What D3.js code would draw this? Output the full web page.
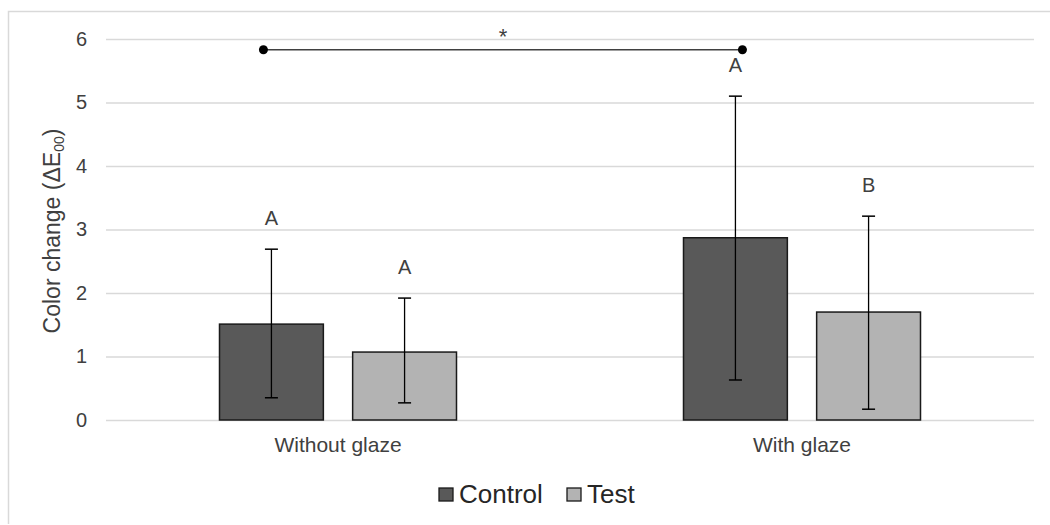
<!DOCTYPE html>
<html>
<head>
<meta charset="utf-8">
<script src="https://cdn.jsdelivr.net/npm/d3@7"></script>
<style>
  body { margin: 0; background: #fff; }
  text { font-family: "Liberation Sans", Arial, sans-serif; }
</style>
</head>
<body>
<div id="chart"></div>
<script>
// Data
var categories = ["Without glaze", "With glaze"];
var series = ["Control", "Test"];
var means = [[1.51, 1.07], [2.87, 1.70]];
var errUpper = [[2.69, 1.92], [5.10, 3.21]];
var errLower = [[0.35, 0.27], [0.63, 0.17]];
var letters = [["A", "A"], ["A", "B"]];
var yTicks = [0, 1, 2, 3, 4, 5, 6];
var bracketValue = 5.83;

var colors = { Control: "#595959", Test: "#b3b3b3" };

var W = 1050, H = 525;
var margin = { top: 39, right: 16, bottom: 105, left: 106 };
var width = W - margin.left - margin.right;
var height = H - margin.top - margin.bottom;

var svg = d3.select("#chart").append("svg")
  .attr("width", W)
  .attr("height", H);

// outer chart border (only top and left visible)
svg.append("path")
  .attr("d", "M8.5,524 V11.5 H1050")
  .attr("fill", "none")
  .attr("stroke", "#d9d9d9")
  .attr("stroke-width", 1.5);

var g = svg.append("g")
  .attr("transform", "translate(" + margin.left + "," + margin.top + ")");

var x0 = d3.scaleBand().domain(categories).range([0, width]);
var x1 = d3.scaleBand().domain(series).range([0, 237]).paddingInner(0.22);
var y = d3.scaleLinear().domain([0, 6]).range([height, 0]);

// gridlines
g.append("g")
  .call(d3.axisLeft(y).tickValues(yTicks).tickSize(-width).tickFormat(""))
  .call(function(s) { s.select(".domain").remove(); })
  .selectAll("line")
  .attr("stroke", "#d9d9d9")
  .attr("stroke-width", 1.5);

// y tick labels
g.append("g")
  .call(d3.axisLeft(y).tickValues(yTicks).tickSize(0).tickPadding(19).tickFormat(d3.format("d")))
  .call(function(s) { s.select(".domain").remove(); })
  .selectAll("text")
  .style("font-size", "20px")
  .attr("fill", "#404040");

// x labels
g.append("g")
  .attr("transform", "translate(0," + height + ")")
  .call(d3.axisBottom(x0).tickSize(0).tickPadding(17))
  .call(function(s) { s.select(".domain").remove(); })
  .selectAll("text")
  .style("font-size", "21px")
  .attr("fill", "#404040");

// bars
var groupOffset = (x0.bandwidth() - 237) / 2;
var groups = g.selectAll(".grp")
  .data(categories)
  .enter().append("g")
  .attr("transform", function(d) { return "translate(" + (x0(d) + groupOffset) + ",0)"; });

groups.each(function(cat, ci) {
  var grp = d3.select(this);
  series.forEach(function(s, si) {
    var cx = x1(s) + x1.bandwidth() / 2;
    grp.append("rect")
      .attr("x", x1(s))
      .attr("y", y(means[ci][si]))
      .attr("width", x1.bandwidth())
      .attr("height", y(0) - y(means[ci][si]))
      .attr("fill", colors[s])
      .attr("stroke", "#1a1a1a")
      .attr("stroke-width", 1.5);
    // error bar
    grp.append("line")
      .attr("x1", cx).attr("x2", cx)
      .attr("y1", y(errUpper[ci][si])).attr("y2", y(errLower[ci][si]))
      .attr("stroke", "#000").attr("stroke-width", 1.3);
    [errUpper[ci][si], errLower[ci][si]].forEach(function(v) {
      grp.append("line")
        .attr("x1", cx - 6.5).attr("x2", cx + 6.5)
        .attr("y1", y(v)).attr("y2", y(v))
        .attr("stroke", "#000").attr("stroke-width", 1.5);
    });
    // letter
    grp.append("text")
      .attr("x", cx)
      .attr("y", y(errUpper[ci][si]) - 24)
      .attr("text-anchor", "middle")
      .style("font-size", "20px")
      .attr("fill", "#404040")
      .text(letters[ci][si]);
  });
});

// significance bracket
var bx1 = x0(categories[0]) + groupOffset + x1("Control") + x1.bandwidth() / 2 - 8;
var bx2 = x0(categories[1]) + groupOffset + x1("Control") + x1.bandwidth() / 2 + 7;
g.append("line")
  .attr("x1", bx1).attr("x2", bx2)
  .attr("y1", y(bracketValue)).attr("y2", y(bracketValue))
  .attr("stroke", "#404040").attr("stroke-width", 1.5);
[bx1, bx2].forEach(function(bx) {
  g.append("circle")
    .attr("cx", bx).attr("cy", y(bracketValue)).attr("r", 4.5)
    .attr("fill", "#000");
});
g.append("text")
  .attr("x", (bx1 + bx2) / 2)
  .attr("y", y(bracketValue) - 6)
  .attr("text-anchor", "middle")
  .style("font-size", "22px")
  .attr("fill", "#404040")
  .text("*");

// y axis title
var yt = svg.append("text")
  .attr("transform", "translate(60,231) rotate(-90)")
  .attr("text-anchor", "middle")
  .style("font-size", "23px")
  .attr("fill", "#404040");
yt.append("tspan").text("Color change (ΔE");
yt.append("tspan").attr("dy", 4).style("font-size", "14px").text("00");
yt.append("tspan").attr("dy", -4).text(")");

// legend
var legend = svg.append("g").attr("transform", "translate(439,494)");
var lx = [0, 128];
series.forEach(function(s, i) {
  legend.append("rect")
    .attr("x", lx[i]).attr("y", -6)
    .attr("width", 14).attr("height", 13)
    .attr("fill", colors[s])
    .attr("stroke", "#1a1a1a").attr("stroke-width", 1.3);
  legend.append("text")
    .attr("x", lx[i] + 20).attr("y", 9)
    .style("font-size", "26px")
    .attr("fill", "#262626")
    .text(s);
});
</script>
</body>
</html>
